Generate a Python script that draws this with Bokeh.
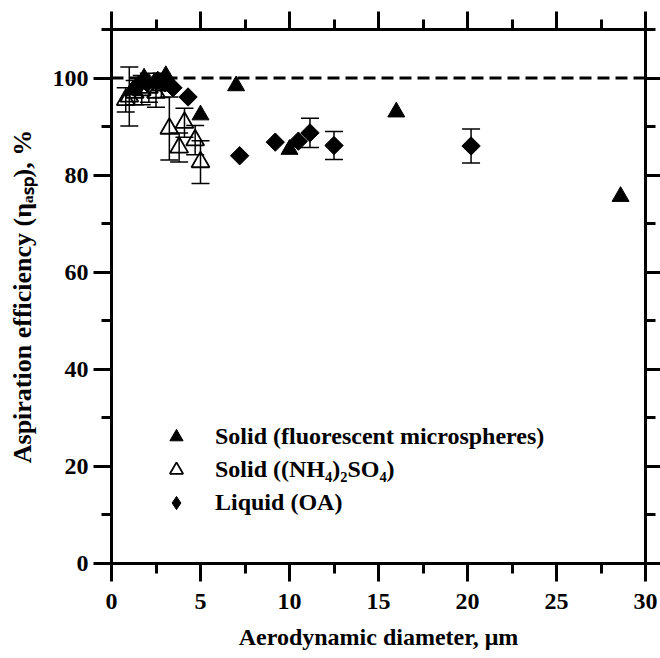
import math
from bokeh.plotting import figure
from bokeh.models import (Range1d, LinearAxis, SingleIntervalTicker, Span, Whisker,
                          TeeHead, ColumnDataSource, Legend, LegendItem)
from bokeh.embed import file_html
from bokeh.resources import INLINE

# ---------------- data ----------------
# Solid (fluorescent microspheres)
fl_x = [1.2, 1.83, 2.4, 3.05, 5.0, 7.0, 10.0, 16.0, 28.6]
fl_y = [97.5, 100.0, 99.0, 100.5, 92.4, 98.4, 85.3, 93.0, 75.6]

# Solid ((NH4)2SO4)
am_x = [0.8, 1.0, 1.3, 1.7, 2.1, 2.5, 2.8, 3.25, 3.8, 4.1, 4.7, 5.0]
am_y = [95.5, 96.2, 97.0, 97.5, 98.0, 97.0, 98.5, 89.6, 85.7, 90.8, 87.2, 82.7]
am_err = [2.5, 6.1, 2.5, 3.0, 3.0, 3.0, 2.5, 6.5, 3.0, 3.0, 3.0, 4.4]

# Liquid (OA)
oa_x = [1.5, 2.0, 2.6, 3.0, 3.45, 4.3, 7.2, 9.2, 10.5, 11.15, 12.5, 20.2]
oa_y = [98.5, 99.0, 99.5, 99.0, 98.0, 96.1, 84.0, 86.8, 87.0, 88.7, 86.1, 86.0]
oa_err = [0, 0, 0, 0, 0, 0, 0, 0, 0, 3.0, 2.9, 3.5]

labels = ["Solid (fluorescent microspheres)", "Solid ((NH\u2084)\u2082SO\u2084)", "Liquid (OA)"]
x_title = "Aerodynamic diameter, \u03bcm"
y_title = "Aspiration efficiency (\u03b7\u2090\u209b\u209a), %"
reference_level = 100

FONT = "Liberation Serif"

p = figure(frame_width=534, frame_height=534, output_backend="svg", toolbar_location=None,
           x_range=Range1d(0, 30), y_range=Range1d(0, 110),
           x_axis_location=None, y_axis_location=None,
           min_border_left=111, min_border_right=15, min_border_top=29, min_border_bottom=95)
p.outline_line_color = None
p.grid.visible = False
p.background_fill_color = "white"
p.border_fill_color = "white"


def make_axis(ticker, show_labels, tick_out=18, color="black"):
    ax = LinearAxis(ticker=ticker)
    ax.axis_line_width = 3
    ax.axis_line_color = color
    ax.major_tick_line_color = color
    ax.minor_tick_line_color = color
    ax.major_tick_line_width = 3
    ax.minor_tick_line_width = 3
    ax.major_tick_in = 0
    ax.minor_tick_in = 0
    ax.major_tick_out = tick_out
    ax.minor_tick_out = 10
    if show_labels:
        ax.major_label_text_font = FONT
        ax.major_label_text_font_style = "bold"
        ax.major_label_text_font_size = "24px"
        ax.major_label_text_color = "black"
        ax.axis_label_text_font = FONT
        ax.axis_label_text_font_style = "bold"
        ax.axis_label_text_font_size = "24px"
        ax.axis_label_text_color = "black"
    else:
        ax.major_label_text_color = None
        ax.major_label_text_font_size = "0px"
        ax.major_label_standoff = 0
        ax.axis_label_standoff = 0
    return ax


xt = SingleIntervalTicker(interval=5, num_minor_ticks=2)
yt = SingleIntervalTicker(interval=20, num_minor_ticks=2)

bottom = make_axis(xt, True)
bottom.axis_label = x_title
bottom.major_label_standoff = 12
bottom.axis_label_standoff = 12
left = make_axis(yt, True)
left.axis_label = y_title
left.axis_label_text_font_size = "26px"
left.major_label_standoff = 5
left.axis_label_standoff = 13
top = make_axis(xt, False)
right = make_axis(yt, False, tick_out=15)

p.add_layout(bottom, "below")
p.add_layout(left, "left")
p.add_layout(top, "above")
p.add_layout(right, "right")


def add_err(xs, ys, es):
    pts = [(x, y, e) for x, y, e in zip(xs, ys, es) if e > 0]
    src = ColumnDataSource(dict(x=[a for a, _, _ in pts],
                                lo=[b - c for _, b, c in pts],
                                hi=[b + c for _, b, c in pts]))
    w = Whisker(source=src, base="x", lower="lo", upper="hi", dimension="height",
                line_color="black", line_width=1.5,
                upper_head=TeeHead(size=18, line_color="black", line_width=1.5),
                lower_head=TeeHead(size=18, line_color="black", line_width=1.5))
    p.add_layout(w)


add_err(am_x, am_y, am_err)
add_err(oa_x, oa_y, oa_err)

p.add_layout(Span(location=reference_level, dimension="width", line_color="black",
                  line_width=3, line_dash="12 6"))

r_fl = p.scatter(fl_x, fl_y, marker="triangle", size=17, fill_color="black", line_color="black")
r_am = p.scatter(am_x, am_y, marker="triangle", size=18, fill_color=None, line_color="black",
                 line_width=1.8)
# diamond-shaped legend key for the OA series; fully covered by the rotated squares below
r_oa_key = p.scatter(oa_x, oa_y, marker="diamond", size=13, fill_color="black", line_color="black")
r_oa = p.scatter(oa_x, oa_y, marker="square", size=13, angle=math.pi / 4,
                 fill_color="black", line_color="black")

legend = Legend(items=[LegendItem(label=labels[0], renderers=[r_fl]),
                       LegendItem(label=labels[1], renderers=[r_am]),
                       LegendItem(label=labels[2], renderers=[r_oa_key])],
                location=(45, 44), orientation="vertical",
                glyph_width=40, glyph_height=33, label_height=33, spacing=0,
                padding=0, margin=0, label_standoff=19,
                label_text_font=FONT, label_text_font_style="bold",
                label_text_font_size="24px", label_text_color="black",
                border_line_color=None, background_fill_alpha=0)
p.add_layout(legend)

open("out.html", "w").write(file_html(p, INLINE))
